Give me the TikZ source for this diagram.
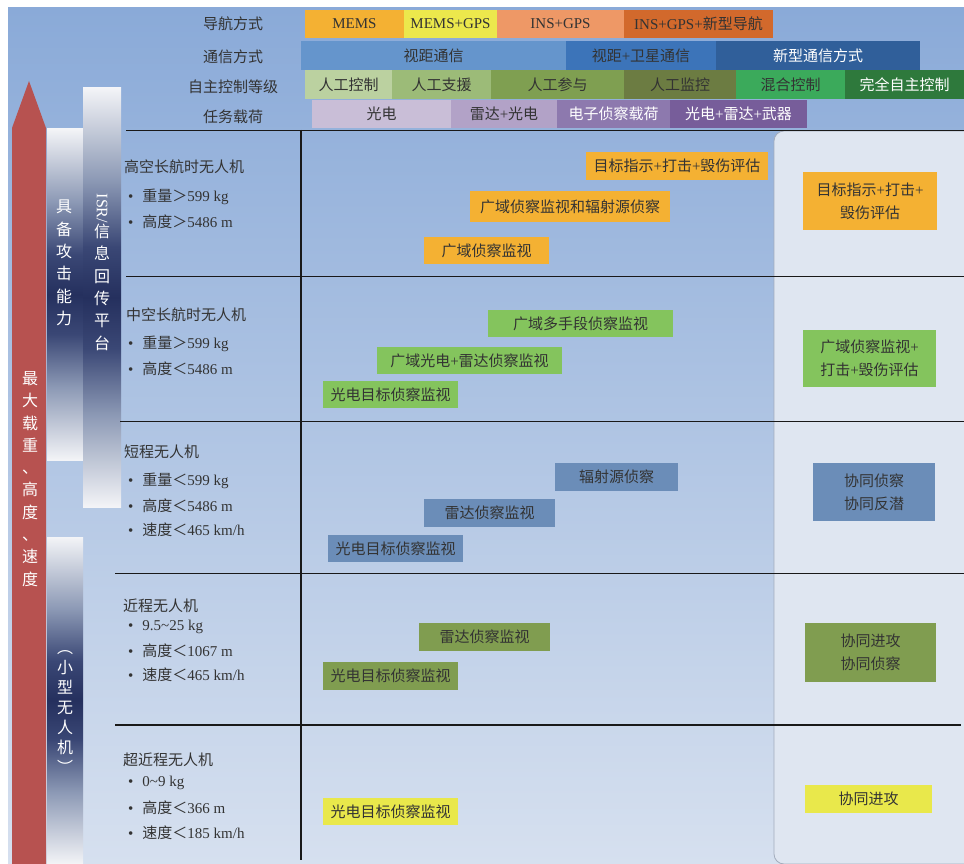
\documentclass[tikz,border=0pt]{standalone}
\usepackage{fontspec}
\setmainfont{Liberation Serif}
\newfontfamily\cjk{Noto Sans CJK SC}

% Chinese characters get the CJK family, everything else stays in the serif family
\newcount\cjkcode
\cjkcode="3000 \loop \XeTeXcharclass\cjkcode=1 \advance\cjkcode by 1 \ifnum\cjkcode<"3040 \repeat
\cjkcode="4E00 \loop \XeTeXcharclass\cjkcode=1 \advance\cjkcode by 1 \ifnum\cjkcode<"A000 \repeat
\cjkcode="FF00 \loop \XeTeXcharclass\cjkcode=1 \advance\cjkcode by 1 \ifnum\cjkcode<"FF60 \repeat
\XeTeXcharclass"FE35=1 \XeTeXcharclass"FE36=1
\XeTeXinterchartokenstate=1
\XeTeXinterchartoks 0 1 = {\cjk}
\XeTeXinterchartoks 4095 1 = {\cjk}
\XeTeXinterchartoks 1 0 = {\rmfamily}

% palette
\definecolor{bgtop}{HTML}{8AAAD8}
\definecolor{bgbot}{HTML}{D6E0EF}
\definecolor{panel}{HTML}{DFE6F1}
\definecolor{panelline}{HTML}{A3ACBC}
\definecolor{txt}{HTML}{333333}
\definecolor{arrowred}{HTML}{B75250}
\definecolor{barend}{HTML}{F3F4F7}
\definecolor{barmid}{HTML}{8C99B5}
\definecolor{bardeep}{HTML}{3A4775}
\definecolor{navy}{HTML}{25305E}
% navigation
\definecolor{navA}{HTML}{F4B133}
\definecolor{navB}{HTML}{ECE84C}
\definecolor{navC}{HTML}{EE9866}
\definecolor{navD}{HTML}{D2692C}
% communication
\definecolor{comA}{HTML}{6595CC}
\definecolor{comB}{HTML}{3C74B9}
\definecolor{comC}{HTML}{305F9A}
% autonomy
\definecolor{autA}{HTML}{BBD1A0}
\definecolor{autB}{HTML}{9CBB78}
\definecolor{autC}{HTML}{7F9F51}
\definecolor{autD}{HTML}{6C7C42}
\definecolor{autE}{HTML}{3BAA5B}
\definecolor{autF}{HTML}{2E793C}
% payload
\definecolor{payA}{HTML}{C9BED7}
\definecolor{payB}{HTML}{B2A2C7}
\definecolor{payC}{HTML}{8D79AE}
\definecolor{payD}{HTML}{775D9A}
% mission rows
\definecolor{rowOrange}{HTML}{F4B133}
\definecolor{rowGreen}{HTML}{84C45D}
\definecolor{rowSteel}{HTML}{6B8DB8}
\definecolor{rowOlive}{HTML}{809D50}
\definecolor{rowYellow}{HTML}{E9E84B}

\pgfdeclareverticalshading{barfade}{100bp}{color(0bp)=(barend); color(25bp)=(barend);
  color(36bp)=(barmid); color(44bp)=(bardeep); color(50bp)=(navy); color(56bp)=(bardeep);
  color(64bp)=(barmid); color(75bp)=(barend); color(100bp)=(barend)}

% filled tile spanning (x1,y1)-(x2,y2): name, x1, y1, x2, y2, style, text
\newcommand\cellbox[7]{%
  \pgfmathsetmacro\cbw{#4-#2}%
  \pgfmathsetmacro\cbh{#5-#3}%
  \node[tile,#6,minimum width=\cbw pt,minimum height=\cbh pt] (#1) at ({(#2+#4)/2},{(#3+#5)/2}) {#7};}

\begin{document}
\begin{tikzpicture}[x=1pt,y=-1pt,
  every node/.style={inner sep=0pt,text=txt,font=\fontsize{15}{18}\selectfont},
  tile/.style={rectangle,align=center},
  wtext/.style={text=white},
  pair/.style={font=\fontsize{15}{23}\selectfont},
  rowlabel/.style={anchor=center},
  leftline/.style={anchor=west},
  vtext/.style={align=center,text=white,font=\fontsize{16}{22.3}\selectfont},
  tableline/.style={line width=1.8pt,black!90}]

\useasboundingbox (0,0) rectangle (964,864);
\fill[white] (0,0) rectangle (964,864);
\shade[top color=bgtop,bottom color=bgbot] (8,8) rectangle (964,864);

% light panel on the right
\draw[fill=panel,draw=panelline,line width=0.8pt,rounded corners=10pt]
  (964,131) -- (774,131) -- (774,864) -- (964,864);

% ---- header rows ----
\node[rowlabel] (navlabel) at (233,24) {导航方式};
\node[rowlabel] (comlabel) at (233,57) {通信方式};
\node[rowlabel] (autlabel) at (233,87) {自主控制等级};
\node[rowlabel] (paylabel) at (233,117) {任务载荷};

\cellbox{nav1}{305}{10}{404}{38}{fill=navA}{MEMS}
\cellbox{nav2}{404}{10}{497}{38}{fill=navB}{MEMS+GPS}
\cellbox{nav3}{497}{10}{624}{38}{fill=navC}{INS+GPS}
\cellbox{nav4}{624}{10}{773}{38}{fill=navD}{INS+GPS+新型导航}

\cellbox{com1}{301}{41}{566}{70}{fill=comA}{视距通信}
\cellbox{com2}{566}{41}{716}{70}{fill=comB}{视距+卫星通信}
\cellbox{com3}{716}{41}{920}{70}{fill=comC,wtext}{新型通信方式}

\cellbox{aut1}{305}{70}{392}{99}{fill=autA}{人工控制}
\cellbox{aut2}{392}{70}{491}{99}{fill=autB}{人工支援}
\cellbox{aut3}{491}{70}{624}{99}{fill=autC}{人工参与}
\cellbox{aut4}{624}{70}{736}{99}{fill=autD}{人工监控}
\cellbox{aut5}{736}{70}{845}{99}{fill=autE}{混合控制}
\cellbox{aut6}{845}{70}{964}{99}{fill=autF,wtext}{完全自主控制}

\cellbox{pay1}{312}{100}{451}{128}{fill=payA}{光电}
\cellbox{pay2}{451}{100}{557}{128}{fill=payB}{雷达+光电}
\cellbox{pay3}{557}{100}{670}{128}{fill=payC,wtext}{电子侦察载荷}
\cellbox{pay4}{670}{100}{807}{128}{fill=payD,wtext}{光电+雷达+武器}

% ---- left side: arrow and shaded bars ----
\fill[arrowred] (12,864) -- (12,128) -- (29,81) -- (46,128) -- (46,864) -- cycle;
\node[vtext] (arrowtext) at (30,479) {最\\大\\载\\重\\、\\高\\度\\、\\速\\度};

\shade[shading=barfade] (47,129) rectangle (83,460);
\shade[shading=barfade] (83,88) rectangle (121,507);
\shade[shading=barfade] (47,537) rectangle (83,864);
\node[vtext] (attacktext) at (64,263) {具\\备\\攻\\击\\能\\力};
\node[vtext] (isrtext) at (102,272) {\rotatebox{-90}{ISR/}\\信\\息\\回\\传\\平\\台};
\node[vtext,font=\fontsize{16}{20}\selectfont] (smalltext) at (65,712) {︵\\小\\型\\无\\人\\机\\︶};

% ---- table grid ----
\draw[tableline] (126,130.5) -- (964,130.5);
\draw[tableline] (126,276.5) -- (964,276.5);
\draw[tableline] (120,421.5) -- (964,421.5);
\draw[tableline] (115,573.5) -- (964,573.5);
\draw[tableline] (115,725) -- (961,725);
\draw[tableline] (301,130) -- (301,860);

% ---- class descriptions ----
\node[leftline] (haleT) at (124,167) {高空长航时无人机};
\node[leftline] (haleA) at (128,197) {•\hspace{9pt}重量＞599 kg};
\node[leftline] (haleB) at (128,222) {•\hspace{9pt}高度＞5486 m};

\node[leftline] (maleT) at (126,315) {中空长航时无人机};
\node[leftline] (maleA) at (128,344) {•\hspace{9pt}重量＞599 kg};
\node[leftline] (maleB) at (128,369) {•\hspace{9pt}高度＜5486 m};

\node[leftline] (shortT) at (124,452) {短程无人机};
\node[leftline] (shortA) at (128,481) {•\hspace{9pt}重量＜599 kg};
\node[leftline] (shortB) at (128,506) {•\hspace{9pt}高度＜5486 m};
\node[leftline] (shortC) at (128,530) {•\hspace{9pt}速度＜465 km/h};

\node[leftline] (closeT) at (123,606) {近程无人机};
\node[leftline] (closeA) at (128,627) {•\hspace{9pt}9.5\textasciitilde25 kg};
\node[leftline] (closeB) at (128,651) {•\hspace{9pt}高度＜1067 m};
\node[leftline] (closeC) at (128,675) {•\hspace{9pt}速度＜465 km/h};

\node[leftline] (vcloseT) at (123,760) {超近程无人机};
\node[leftline] (vcloseA) at (128,783) {•\hspace{9pt}0\textasciitilde9 kg};
\node[leftline] (vcloseB) at (128,808) {•\hspace{9pt}高度＜366 m};
\node[leftline] (vcloseC) at (128,833) {•\hspace{9pt}速度＜185 km/h};

% ---- missions ----
\cellbox{hale1}{586}{152}{768}{180}{fill=rowOrange}{目标指示+打击+毁伤评估}
\cellbox{hale2}{470}{191}{670}{222}{fill=rowOrange}{广域侦察监视和辐射源侦察}
\cellbox{hale3}{424}{237}{549}{264}{fill=rowOrange}{广域侦察监视}
\cellbox{haleR}{803}{172}{937}{230}{fill=rowOrange,pair}{目标指示+打击+\\毁伤评估}

\cellbox{male1}{488}{310}{673}{337}{fill=rowGreen}{广域多手段侦察监视}
\cellbox{male2}{377}{347}{562}{374}{fill=rowGreen}{广域光电+雷达侦察监视}
\cellbox{male3}{323}{381}{458}{408}{fill=rowGreen}{光电目标侦察监视}
\cellbox{maleR}{803}{330}{936}{387}{fill=rowGreen,pair}{广域侦察监视+\\打击+毁伤评估}

\cellbox{short1}{555}{463}{678}{491}{fill=rowSteel}{辐射源侦察}
\cellbox{short2}{424}{499}{555}{527}{fill=rowSteel}{雷达侦察监视}
\cellbox{short3}{328}{535}{463}{562}{fill=rowSteel}{光电目标侦察监视}
\cellbox{shortR}{813}{463}{935}{521}{fill=rowSteel,pair}{协同侦察\\协同反潜}

\cellbox{close1}{419}{623}{550}{651}{fill=rowOlive}{雷达侦察监视}
\cellbox{close2}{323}{662}{458}{690}{fill=rowOlive}{光电目标侦察监视}
\cellbox{closeR}{805}{623}{936}{682}{fill=rowOlive,pair}{协同进攻\\协同侦察}

\cellbox{vclose1}{323}{798}{458}{825}{fill=rowYellow}{光电目标侦察监视}
\cellbox{vcloseR}{805}{785}{932}{813}{fill=rowYellow}{协同进攻}

\end{tikzpicture}
\end{document}
